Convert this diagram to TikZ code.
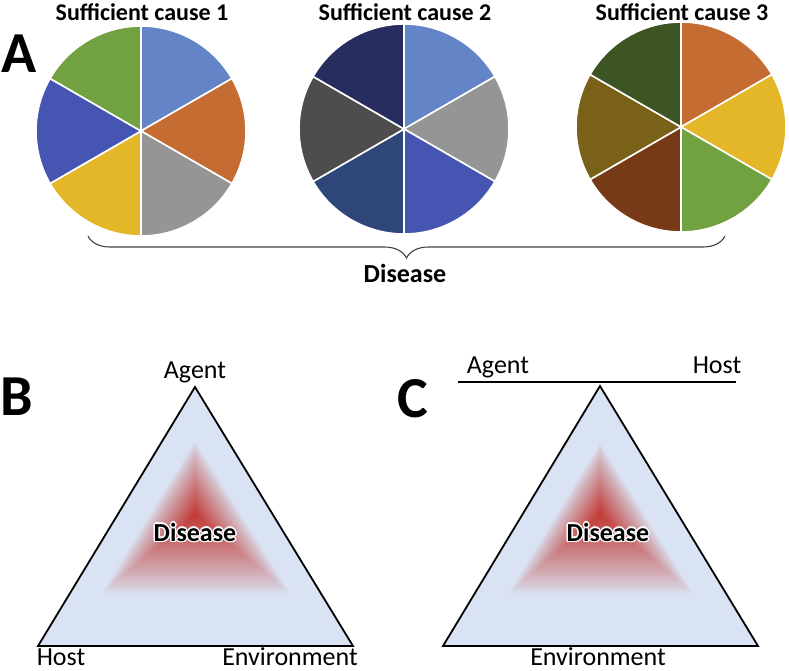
\documentclass[tikz,border=0pt]{standalone}
\usepackage{fontspec}
\setmainfont{Carlito}
\usetikzlibrary{calc,positioning,decorations.pathreplacing}
\definecolor{causeSky}{RGB}{99,132,198}
\definecolor{causeOrange}{RGB}{196,108,50}
\definecolor{causeGray}{RGB}{149,149,149}
\definecolor{causeYellow}{RGB}{228,183,41}
\definecolor{causeBlue}{RGB}{70,85,177}
\definecolor{causeGreen}{RGB}{113,161,64}
\definecolor{causeSlate}{RGB}{47,70,120}
\definecolor{causeCharcoal}{RGB}{77,77,77}
\definecolor{causeNavy}{RGB}{40,45,96}
\definecolor{causeBrown}{RGB}{119,58,23}
\definecolor{causeOlive}{RGB}{122,97,24}
\definecolor{causeForest}{RGB}{61,84,35}
\definecolor{triBlue}{RGB}{218,227,243}
\definecolor{coreRed}{RGB}{190,42,34}
\definecolor{braceGray}{RGB}{64,64,64}

\begin{document}
\begin{tikzpicture}[x=1pt,y=-1pt,
  slice/.style={draw=white, line width=1.6pt, line join=round},
  title/.style={font=\bfseries\fontsize{24}{28}\selectfont, inner sep=0pt},
  panel/.style={font=\bfseries\fontsize{58}{60}\selectfont, inner sep=0pt, anchor=base west},
  corner/.style={font=\fontsize{26}{28}\selectfont, inner sep=0pt, anchor=base},
  inlabel/.style={font=\bfseries\fontsize{26}{30}\selectfont, inner sep=0pt},
  edge/.style={draw=black, line width=1.8pt, line join=miter}]
\useasboundingbox (0,0) rectangle (789,670);

% sufficient causes
\foreach \cx/\cy/\cols/\n in {141/131/{causeSky,causeOrange,causeGray,causeYellow,causeBlue,causeGreen}/1,
    404/129/{causeSky,causeGray,causeBlue,causeSlate,causeCharcoal,causeNavy}/2,
    681/127/{causeOrange,causeYellow,causeGreen,causeBrown,causeOlive,causeForest}/3}{
  \coordinate (pie\n) at (\cx,\cy);
  \foreach \c [count=\i from 0] in \cols
    \fill[\c, slice] (pie\n) -- ++({-90+60*\i}:105) arc[start angle={-90+60*\i}, delta angle=60, radius=105] -- cycle;
  \node[title] (cause\n) at (\cx+1,12) {Sufficient cause \n};
}
\node[panel] (panelA) at (1,72) {A};

\coordinate (braceL) at (88,236);
\coordinate (braceR) at (725,236);
\draw[braceGray, line width=1.1pt, decorate, decoration={brace, mirror, amplitude=22pt}] (braceL) -- (braceR);
\node[inlabel] (diseaseA) at (405,273) {Disease};

% epidemiological triangle
\coordinate (apexB) at (195,387);
\coordinate (hostB) at (38,646);
\coordinate (envB) at (353,646);
\fill[triBlue] (apexB) -- (hostB) -- (envB) -- cycle;
\foreach \s [evaluate=\s as \p using {92*(1-\s)^0.85}] in {0.99,0.965,...,0.01}
  \fill[coreRed!\p!triBlue] ($(195,515)!\s!(195,440)$) -- ($(195,515)!\s!(100,595)$) -- ($(195,515)!\s!(292,595)$) -- cycle;
\draw[edge] (apexB) -- (hostB) -- (envB) -- cycle;
\foreach \dx/\dy [count=\k] in {1.5/0,-1.5/0,0/1.5,0/-1.5,1/1,-1/1,1/-1,-1/-1}
  \node[inlabel, text=white] (glowB\k) at (195+\dx,532+\dy) {Disease};
\node[inlabel] (diseaseB) at (195,532) {Disease};
\node[corner] (agentB) at (195,378) {Agent};
\node[corner] (hostLabelB) at (61,665) {Host};
\node[corner] (envLabelB) at (290,665) {Environment};
\node[panel] (panelB) at (0,415) {B};

% lever model
\coordinate (apexC) at (600,386);
\coordinate (hostC) at (443,646);
\coordinate (envC) at (758,646);
\fill[triBlue] (apexC) -- (hostC) -- (envC) -- cycle;
\foreach \s [evaluate=\s as \p using {92*(1-\s)^0.85}] in {0.99,0.965,...,0.01}
  \fill[coreRed!\p!triBlue] ($(600,515)!\s!(600,442)$) -- ($(600,515)!\s!(507,595)$) -- ($(600,515)!\s!(695,595)$) -- cycle;
\draw[edge] (apexC) -- (hostC) -- (envC) -- cycle;
\coordinate (barL) at (458,382);
\coordinate (barR) at (736,382);
\draw[line width=1.8pt] (barL) -- (barR);
\foreach \dx/\dy [count=\k] in {1.5/0,-1.5/0,0/1.5,0/-1.5,1/1,-1/1,1/-1,-1/-1}
  \node[inlabel, text=white] (glowC\k) at (608+\dx,532+\dy) {Disease};
\node[inlabel] (diseaseC) at (608,532) {Disease};
\node[corner] (agentC) at (498,373) {Agent};
\node[corner] (hostLabelC) at (717,373) {Host};
\node[corner] (envLabelC) at (598,665) {Environment};
\node[panel] (panelC) at (397,417) {C};
\end{tikzpicture}
\end{document}
